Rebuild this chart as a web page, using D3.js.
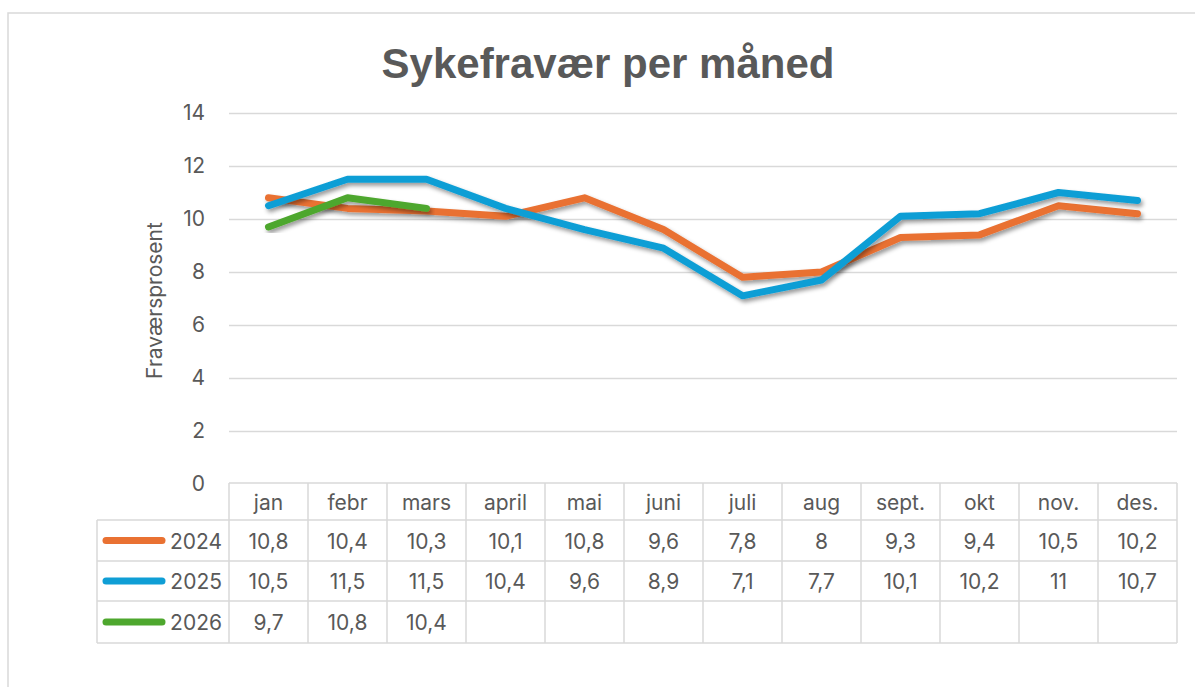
<!DOCTYPE html>
<html>
<head>
<meta charset="utf-8">
<script src="https://cdn.jsdelivr.net/npm/d3@7"></script>
<style>
  body { margin: 0; background: #fff; }
  #svg-container { width: 1195px; height: 687px; }
  text { font-family: "Inter", "Liberation Sans", Arial, sans-serif; fill: #595959; }
</style>
</head>
<body>
<div id="svg-container"></div>
<script>
// data
const months = ["jan", "febr", "mars", "april", "mai", "juni", "juli", "aug", "sept.", "okt", "nov.", "des."];
const seriesNames = ["2024", "2025", "2026"];
const values2024 = [10.8, 10.4, 10.3, 10.1, 10.8, 9.6, 7.8, 8, 9.3, 9.4, 10.5, 10.2];
const values2025 = [10.5, 11.5, 11.5, 10.4, 9.6, 8.9, 7.1, 7.7, 10.1, 10.2, 11, 10.7];
const values2026 = [9.7, 10.8, 10.4];
const yTicks = [0, 2, 4, 6, 8, 10, 12, 14];
const colors = ["#E97132", "#0F9ED5", "#4EA72E"];

const width = 1195, height = 687;
const plot = { left: 229, right: 1177, top: 113, bottom: 484 };
const rowH = [37, 41, 40, 42]; // header + 3 rows
const legendLeft = 97;

const svg = d3.select("#svg-container").append("svg")
  .attr("width", width).attr("height", height);

// shadow
const defs = svg.append("defs");
const f = defs.append("filter").attr("id", "shadow")
  .attr("x", "-5%").attr("y", "-20%").attr("width", "110%").attr("height", "140%");
f.append("feDropShadow").attr("dx", 2).attr("dy", 3).attr("stdDeviation", 2)
  .attr("flood-color", "#000").attr("flood-opacity", 0.4);

// outer frame
svg.append("rect").attr("x", 8).attr("y", 13).attr("width", 1200).attr("height", 700)
  .attr("fill", "#fff").attr("stroke", "#d9d9d9").attr("stroke-width", 1.5);

// title
svg.append("text").attr("x", 608).attr("y", 78).attr("text-anchor", "middle")
  .style("font-family", "'Liberation Sans', Arial, sans-serif")
  .style("font-size", "42px").style("font-weight", "bold")
  .text("Sykefravær per måned");

// scales
const xScale = d3.scaleBand().domain(months).range([plot.left, plot.right]);
const yScale = d3.scaleLinear().domain([0, 14]).range([plot.bottom, plot.top]);

// y axis with grid
const yAxis = d3.axisLeft(yScale).tickValues(yTicks).tickFormat(d3.format("d"))
  .tickSize(-(plot.right - plot.left)).tickPadding(24);
const gy = svg.append("g").attr("transform", `translate(${plot.left},0)`).call(yAxis);
gy.select(".domain").remove();
gy.selectAll("line").attr("stroke", "#d9d9d9").attr("stroke-width", 1.5);
gy.selectAll("line").filter((d) => d === 0).remove();
gy.selectAll("text").style("font-size", "21px").attr("fill", "#595959")
  .style("font-family", "Inter, 'Liberation Sans', Arial, sans-serif");

// y label
svg.append("text")
  .attr("transform", `translate(162, ${(plot.top + plot.bottom) / 2 + 2}) rotate(-90)`)
  .attr("text-anchor", "middle").style("font-size", "21px")
  .text("Fraværsprosent");

// lines
const allSeries = [values2024, values2025, values2026];
const line = d3.line()
  .x((d, i) => xScale(months[i]) + xScale.bandwidth() / 2)
  .y((d) => yScale(d));

allSeries.forEach((vals, k) => {
  svg.append("path").datum(vals)
    .attr("d", line).attr("fill", "none")
    .attr("stroke", colors[k]).attr("stroke-width", 7)
    .attr("stroke-linejoin", "round").attr("stroke-linecap", "round")
    .attr("filter", "url(#shadow)");
});

// data table
const grid = "#d9d9d9";
const tbl = svg.append("g");
const rowTops = [plot.bottom - 1];
rowH.forEach((h, i) => rowTops.push(rowTops[i] + h));
const tableBottom = rowTops[rowTops.length - 1];

// horizontal lines
rowTops.forEach((y, i) => {
  tbl.append("line")
    .attr("x1", i === 0 ? plot.left : legendLeft).attr("x2", plot.right)
    .attr("y1", y).attr("y2", y).attr("stroke", grid).attr("stroke-width", 1.5);
});
// vertical lines
months.forEach((m) => {
  tbl.append("line").attr("x1", xScale(m)).attr("x2", xScale(m))
    .attr("y1", rowTops[0]).attr("y2", tableBottom).attr("stroke", grid).attr("stroke-width", 1.5);
});
tbl.append("line").attr("x1", plot.right).attr("x2", plot.right)
  .attr("y1", rowTops[0]).attr("y2", tableBottom).attr("stroke", grid).attr("stroke-width", 1.5);
tbl.append("line").attr("x1", legendLeft).attr("x2", legendLeft)
  .attr("y1", rowTops[1]).attr("y2", tableBottom).attr("stroke", grid).attr("stroke-width", 1.5);

// header
months.forEach((m) => {
  tbl.append("text").attr("x", xScale(m) + xScale.bandwidth() / 2)
    .attr("y", (rowTops[0] + rowTops[1]) / 2 + 8).attr("text-anchor", "middle")
    .style("font-size", "21px").text(m);
});

const fmt = (v) => String(v).replace(".", ",");
allSeries.forEach((vals, k) => {
  const yMid = (rowTops[k + 1] + rowTops[k + 2]) / 2;
  tbl.append("line").attr("x1", 106).attr("x2", 162).attr("y1", yMid).attr("y2", yMid)
    .attr("stroke", colors[k]).attr("stroke-width", 7).attr("stroke-linecap", "round");
  tbl.append("text").attr("x", 222).attr("y", yMid + 8).attr("text-anchor", "end")
    .style("font-size", "21px").text(seriesNames[k]);
  vals.forEach((v, i) => {
    tbl.append("text").attr("x", xScale(months[i]) + xScale.bandwidth() / 2)
      .attr("y", yMid + 8).attr("text-anchor", "middle")
      .style("font-size", "21px").text(fmt(v));
  });
});
</script>
</body>
</html>
